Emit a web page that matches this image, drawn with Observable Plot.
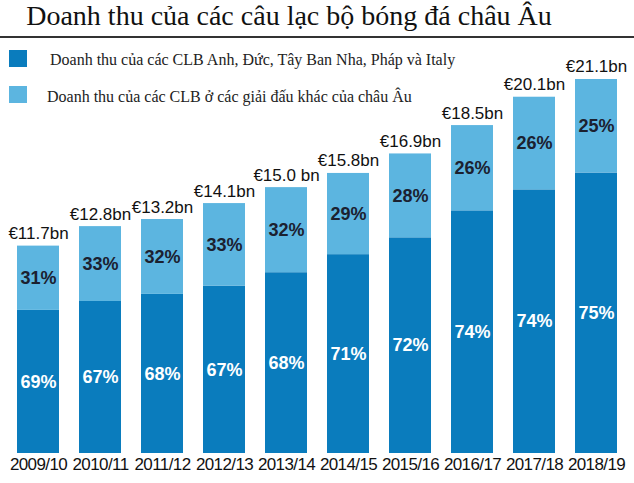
<!DOCTYPE html>
<html>
<head>
<meta charset="utf-8">
<script src="https://cdn.jsdelivr.net/npm/d3@7"></script>
<script src="https://cdn.jsdelivr.net/npm/@observablehq/plot@0.6"></script>
<style>
  html, body { margin: 0; padding: 0; background: #fff; }
  #wrap { position: relative; width: 634px; height: 483px; overflow: hidden; }
  #title { position: absolute; left: 0; width: 578px; top: 0px; text-align: center;
           font-family: "Liberation Serif", "DejaVu Serif", serif; font-size: 28px; color: #111; white-space: nowrap; }
  #rule { position: absolute; left: 0; top: 36px; width: 634px; height: 2px; background: #333; }
  .leg { position: absolute; font-family: "Liberation Serif", "DejaVu Serif", serif; font-size: 16px; color: #222; white-space: nowrap; }
  .sw { position: absolute; width: 18px; height: 17px; }
  svg { position: absolute; left: 0; top: 0; }
</style>
</head>
<body>
<div id="wrap">
  <div id="chart"></div>
  <div id="title"></div>
  <div id="rule"></div>
  <div class="sw" id="sw1" style="left:9px; top:50px;"></div>
  <div class="leg" id="lg1" style="left:50px; top:51px;"></div>
  <div class="sw" id="sw2" style="left:9px; top:86px;"></div>
  <div class="leg" id="lg2" style="left:47px; top:88px;"></div>
</div>
<script>
const seasons = ["2009/10","2010/11","2011/12","2012/13","2013/14","2014/15","2015/16","2016/17","2017/18","2018/19"];
const totals = [11.7, 12.8, 13.2, 14.1, 15.0, 15.8, 16.9, 18.5, 20.1, 21.1];
const totalLabels = ["€11.7bn","€12.8bn","€13.2bn","€14.1bn","€15.0 bn","€15.8bn","€16.9bn","€18.5bn","€20.1bn","€21.1bn"];
const bigFivePct = [69, 67, 68, 67, 68, 71, 72, 74, 74, 75];
const otherPct = [31, 33, 32, 33, 32, 29, 28, 26, 26, 25];
const seriesNames = ["Doanh thu của các CLB Anh, Đức, Tây Ban Nha, Pháp và Italy",
                     "Doanh thu của các CLB ở các giải đấu khác của châu Âu"];
const colors = ["#0a7cbd", "#5cb5e0"];
const titleText = "Doanh thu của các câu lạc bộ bóng đá châu Âu";

const data = seasons.map((s, i) => {
  const dark = totals[i] * bigFivePct[i] / 100;
  return {season: s, total: totals[i], label: totalLabels[i], dark,
          pBig: bigFivePct[i] + "%", pOther: otherPct[i] + "%"};
});

const chart = Plot.plot({
  width: 634,
  height: 483,
  marginLeft: 16,
  marginRight: 16,
  marginTop: 40,
  marginBottom: 30,
  style: {background: "transparent", fontFamily: "Liberation Sans, Arial, sans-serif"},
  x: {domain: seasons, paddingInner: 0.325, paddingOuter: 0, label: null, tickSize: 0, tickPadding: 4},
  y: {domain: [0, 23.3], axis: null},
  marks: [
    Plot.barY(data, {x: "season", y1: 0, y2: "dark", fill: colors[0]}),
    Plot.barY(data, {x: "season", y1: "dark", y2: "total", fill: colors[1]}),
    Plot.text(data, {x: "season", y: "total", text: "label", dy: -7, lineAnchor: "bottom",
                     fontSize: 17, fill: "#111", letterSpacing: -0.7}),
    Plot.text(data, {x: "season", y: d => (d.dark + d.total) / 2, text: "pOther",
                     fontSize: 18, fontWeight: "bold", fill: "#1b2130", letterSpacing: -0.5}),
    Plot.text(data, {x: "season", y: d => d.dark / 2, text: "pBig",
                     fontSize: 18, fontWeight: "bold", fill: "#ffffff", letterSpacing: -0.5}),
    Plot.axisX({fontSize: 17, tickSize: 0, tickPadding: 4, fill: "#111", label: null})
  ]
});
chart.querySelectorAll("g[aria-label='x-axis tick label'] text").forEach(t => t.setAttribute("letter-spacing", "-0.6"));
document.getElementById("chart").appendChild(chart);
document.getElementById("title").textContent = titleText;
document.getElementById("lg1").textContent = seriesNames[0];
document.getElementById("lg2").textContent = seriesNames[1];
document.getElementById("sw1").style.background = colors[0];
document.getElementById("sw2").style.background = colors[1];
</script>
</body>
</html>
